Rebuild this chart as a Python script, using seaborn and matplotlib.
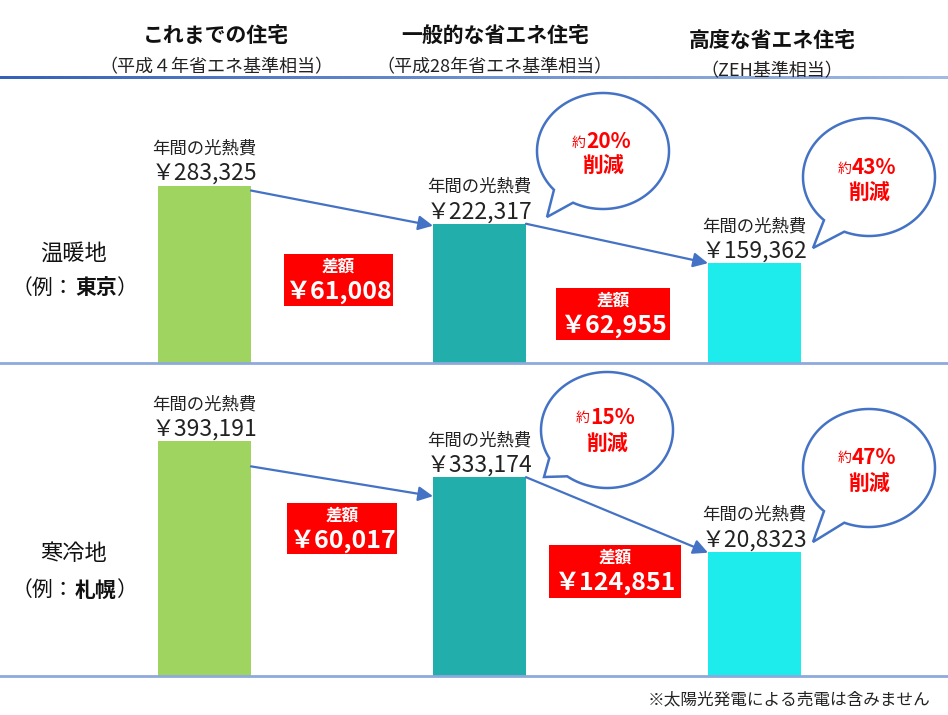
import numpy as np
import pandas as pd
import matplotlib
matplotlib.use("Agg")
import matplotlib.pyplot as plt
import seaborn as sns
from matplotlib.patches import Rectangle, Polygon
import matplotlib.colors as mcolors

# ---------------- data ----------------
houses = ["これまでの住宅", "一般的な省エネ住宅", "高度な省エネ住宅"]
house_notes = ["（平成４年省エネ基準相当）", "（平成28年省エネ基準相当）", "（ZEH基準相当）"]
warm_costs = [283325, 222317, 159362]
cold_costs = [393191, 333174, 208323]
warm_cost_labels = ["￥283,325", "￥222,317", "￥159,362"]
cold_cost_labels = ["￥393,191", "￥333,174", "￥20,8323"]
warm_diff_labels = ["￥61,008", "￥62,955"]
cold_diff_labels = ["￥60,017", "￥124,851"]
warm_cut = ["20%", "43%"]
cold_cut = ["15%", "47%"]
region_names = ["温暖地", "寒冷地"]
region_examples = ["東京", "札幌"]
footnote = "※太陽光発電による売電は含みません"

# ---------------- style ----------------
sns.set_theme(style="white")
plt.rcParams["font.family"] = ["Noto Sans CJK JP", "DejaVu Sans"]

bar_colors = ["#9ED45F", "#22AEAA", "#1EEBEB"]
blue = "#4472C4"
red = "#FF0000"
W, H = 948, 715

fig = plt.figure(figsize=(9.48, 7.15), dpi=100)
fig.patch.set_facecolor("white")

def px_axes(top, bottom):
    return fig.add_axes([0, 1 - bottom / H, 1, (bottom - top) / H])

ax_top = px_axes(78, 363)
ax_bot = px_axes(363, 676)

S, a0 = 275.0, 204.5
bar_w = 93 / S
xlim = (-a0 / S, (W - a0) / S)

panels = [
    (ax_top, warm_costs, warm_cost_labels, 455000, [(5, 2), (0, 0)]),
    (ax_bot, cold_costs, cold_cost_labels, 524500, [(25, 19), (0, 1)]),
]

for ax, vals, labs, ytop, drops in panels:
    df = pd.DataFrame({"house": houses, "cost": vals})
    sns.barplot(data=df, x="house", y="cost", hue="house", palette=bar_colors,
                order=houses, hue_order=houses, width=bar_w, legend=False,
                ax=ax, saturation=1, edgecolor="none", linewidth=0)
    ax.set_xlim(*xlim)
    ax.set_ylim(0, ytop)
    ax.set_facecolor("none")
    ax.set_xticks([]); ax.set_yticks([])
    ax.set_xlabel(""); ax.set_ylabel("")
    for s in ["top", "left", "right"]:
        ax.spines[s].set_visible(False)
    ax.spines["bottom"].set_color("#8EA9DB")
    ax.spines["bottom"].set_linewidth(2)
    height_px = ax.get_position().height * H
    per_px = ytop / height_px
    for i, (v, lab) in enumerate(zip(vals, labs)):
        ax.annotate("年間の光熱費", xy=(i, v), xytext=(0, 37), textcoords="offset pixels",
                    ha="center", va="center", fontsize=12.5, color="#222222")
        ax.annotate(lab, xy=(i, v), xytext=(0, 12), textcoords="offset pixels",
                    ha="center", va="center", fontsize=16.5, color="#222222")
    for i in range(2):
        d0, d1 = drops[i]
        ax.annotate("", xy=(i + 1 - bar_w / 2, vals[i + 1] - d1 * per_px),
                    xytext=(i + bar_w / 2, vals[i] - d0 * per_px),
                    arrowprops=dict(arrowstyle="-|>", color=blue, lw=1.6,
                                    mutation_scale=22, shrinkA=0, shrinkB=0))

# ---------------- overlay (pixel coordinates) ----------------
ov = fig.add_axes([0, 0, 1, 1], zorder=5)
ov.set_xlim(0, W); ov.set_ylim(H, 0)
ov.axis("off")
ov.patch.set_alpha(0)

# top gradient line
cmap = mcolors.LinearSegmentedColormap.from_list("g", ["#3562B8", "#A3BBE4"])
grad = np.linspace(0, 1, 256).reshape(1, -1)
ov.imshow(grad, cmap=cmap, extent=(0, W, 79.2, 76.8), aspect="auto",
          interpolation="bilinear", zorder=1)
ov.set_xlim(0, W); ov.set_ylim(H, 0)

# headers
head_x = [216, 495, 772]
head_y = [35, 35, 40]
note_y = [67, 67, 71]
for hx, hy, ny, h, n in zip(head_x, head_y, note_y, houses, house_notes):
    ov.text(hx, hy, h, ha="center", va="center", fontsize=15, fontweight="bold", color="#111111")
    ov.text(hx, ny, n, ha="center", va="center", fontsize=13, color="#222222")

# region labels
for (ny, ey), name, ex in zip([(253, 288), (553, 590)], region_names, region_examples):
    ov.text(74, ny, name, ha="center", va="center", fontsize=16, color="#111111")
    ov.text(74, ey, "（例：", ha="right", va="center", fontsize=15, color="#111111")
    ov.text(75, ey, ex, ha="left", va="center", fontsize=15, fontweight="bold", color="#111111")
    ov.text(116, ey, "）", ha="left", va="center", fontsize=15, color="#111111")

# red difference boxes
boxes = [((284, 254, 393, 306), warm_diff_labels[0]),
         ((556, 288, 670, 340), warm_diff_labels[1]),
         ((287, 503, 397, 554), cold_diff_labels[0]),
         ((549, 545, 681, 598), cold_diff_labels[1])]
for (x0, y0, x1, y1), lab in boxes:
    ov.add_patch(Rectangle((x0, y0), x1 - x0, y1 - y0, facecolor=red, edgecolor="none"))
    cx = (x0 + x1) / 2
    ov.text(cx, y0 + 13, "差額", ha="center", va="center", fontsize=12,
            fontweight="bold", color="white")
    ov.text(cx, y0 + 38, lab, ha="center", va="center", fontsize=18,
            fontweight="bold", color="white")

# speech bubbles
bubbles = [
    (603, 151, 66, 58, 117, 138, (547, 217), warm_cut[0], -9, 14),
    (869, 177, 66, 59, 112, 133, (813, 248), warm_cut[1], -9, 15),
    (607, 430, 66, 58, 127, 151, (544, 477), cold_cut[0], -13, 13),
    (869, 468, 66, 59, 112, 133, (813, 542), cold_cut[1], -11, 15),
]
for cx, cy, rx, ry, a1, a2, tip, pct, d1, d2 in bubbles:
    th = np.radians(np.linspace(a2, a1 + 360, 240))
    pts = list(zip(cx + rx * np.cos(th), cy + ry * np.sin(th))) + [tip]
    ov.add_patch(Polygon(pts, closed=True, facecolor="white", edgecolor=blue, lw=1.8))
    ov.text(cx - 17, cy + d1 + 1, "約", ha="right", va="center", fontsize=10, color=red)
    ov.text(cx - 17, cy + d1, pct, ha="left", va="center", fontsize=15,
            fontweight="bold", color=red)
    ov.text(cx, cy + d2, "削減", ha="center", va="center", fontsize=15,
            fontweight="bold", color=red)

ov.text(930, 700, footnote, ha="right", va="center", fontsize=12, color="#222222")

fig.savefig("out.png", dpi=100, facecolor="white")
